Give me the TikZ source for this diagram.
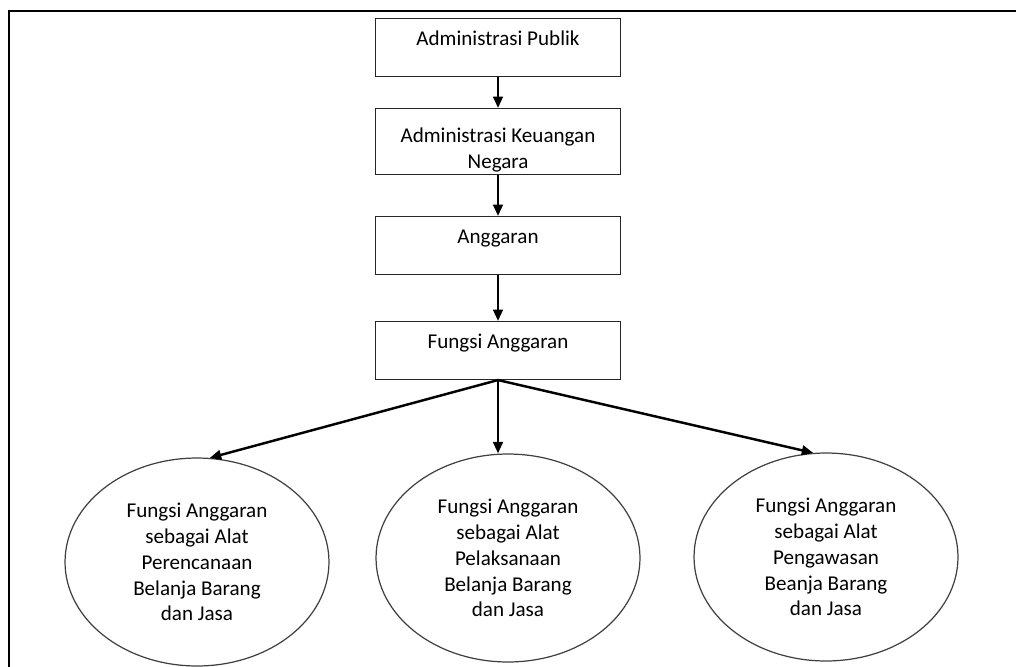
\documentclass[tikz,border=0pt]{standalone}
\usepackage{fontspec}
\setmainfont{Carlito}
\usetikzlibrary{
  arrows.meta,      % 实心三角箭头
  shapes.geometric, % 椭圆节点
  positioning       % 节点相对定位
}

\begin{document}
\begin{tikzpicture}[>={Triangle[length=6.5pt, width=5.5pt]}, x=0.02cm, y=-0.02cm,
  teks/.style={font=\fontsize{12pt}{14.7pt}\selectfont},
  kotak/.style={teks, rectangle, draw=black!85, line width=0.6pt,
    minimum width=4.9cm, inner sep=0pt, anchor=north},
  kotaksatu/.style={kotak, text height=0.54cm, text depth=0.62cm},
  elips/.style={teks, ellipse, draw=black!75, line width=0.7pt,
    minimum width=5.28cm, minimum height=4.16cm, inner sep=0pt, align=center},
  panah/.style={->, line width=1.4pt}
]
  \useasboundingbox (0,0) rectangle (1016,666);

  % 外框（只露出左边与上边）
  \draw[line width=1.7pt] (9,690) -- (9,11) -- (1040,11);

  % 上方四个方框
  \node[kotaksatu] (publik) at (498,18) {Administrasi Publik};
  \node[kotak, align=center, text height=1.2cm, text depth=0.12cm]
    (keuangan) at (498,108) {Administrasi Keuangan\\Negara};
  \node[kotaksatu] (anggaran) at (498,216) {Anggaran};
  \node[kotaksatu] (fungsi) at (498,321) {Fungsi Anggaran};

  % 下方三个椭圆
  \node[elips] (rencana) at (197,562)
    {Fungsi Anggaran\\sebagai Alat\\Perencanaan\\Belanja Barang\\dan Jasa};
  \node[elips] (laksana) at (508,558)
    {Fungsi Anggaran\\sebagai Alat\\Pelaksanaan\\Belanja Barang\\dan Jasa};
  \node[elips] (awas) at (826,557)
    {Fungsi Anggaran\\sebagai Alat\\Pengawasan\\Beanja Barang\\dan Jasa};

  % 竖向箭头
  \draw[panah] (publik) -- (keuangan);
  \draw[panah] (keuangan) -- (anggaran);
  \draw[panah] (anggaran) -- (fungsi);

  % 分叉箭头
  \draw[panah] (fungsi.south) -- (rencana.83);
  \draw[panah] (fungsi.south) -- (fungsi.south |- laksana.north);
  \draw[panah] (fungsi.south) -- (awas.97);
\end{tikzpicture}
\end{document}
